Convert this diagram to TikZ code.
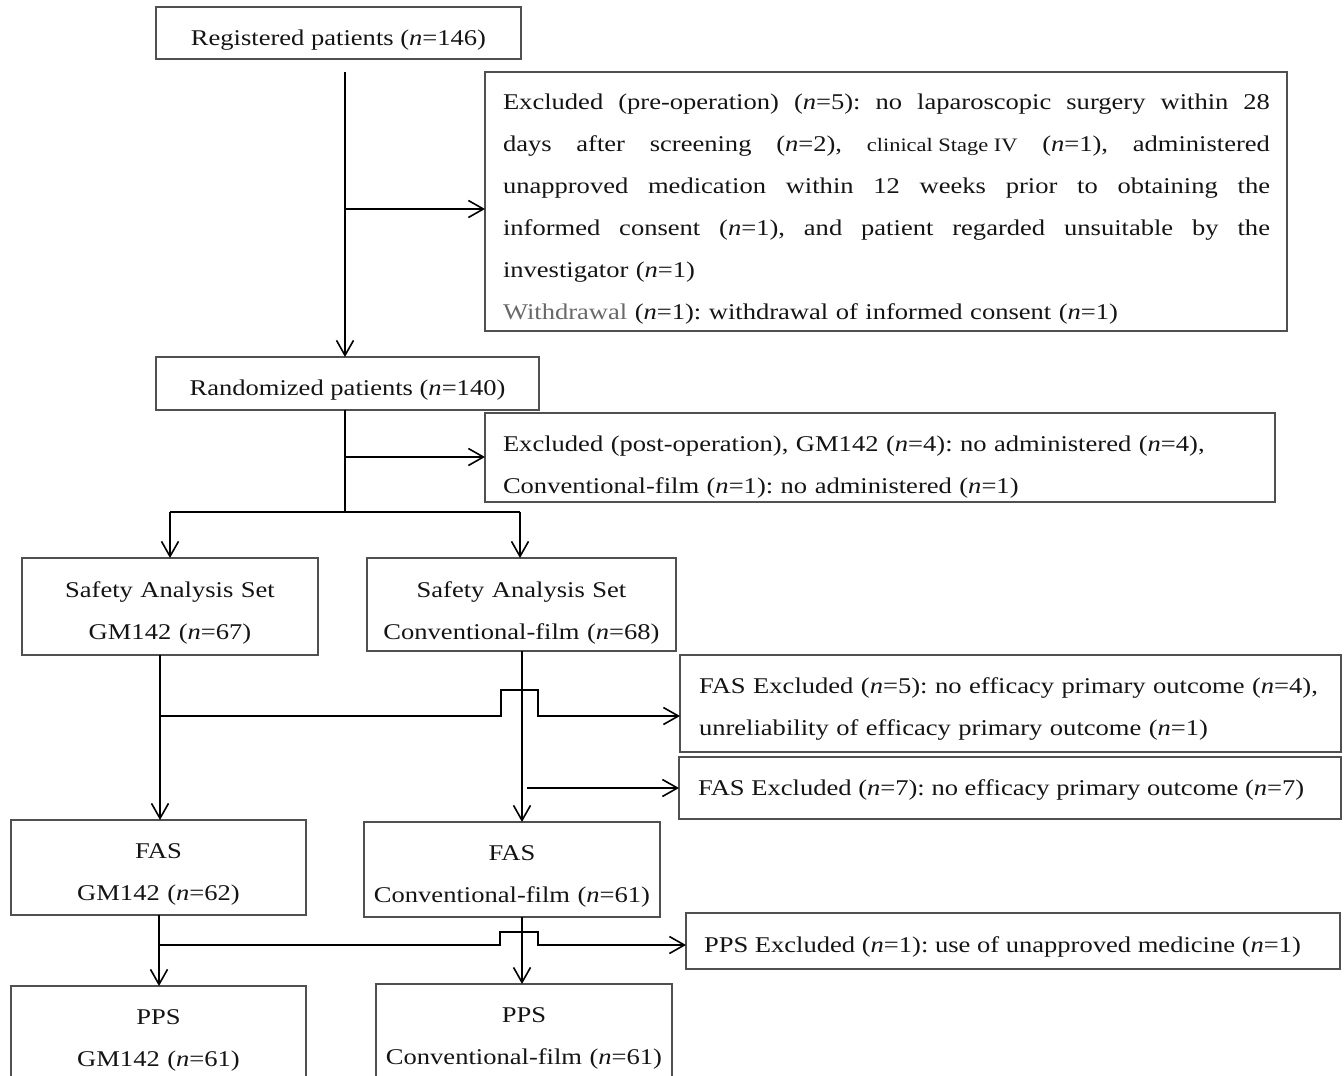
\documentclass[tikz,border=0pt]{standalone}
\usepackage{fontspec}
\setmainfont{Liberation Serif}[FakeStretch=1.18]
\usetikzlibrary{arrows.meta}
\newcommand{\nv}[1]{(\textit{n}=#1)}
\newcommand{\jline}[1]{\makebox[767pt][s]{\spaceskip=\fontdimen2\font plus 1fil\relax #1}}
\definecolor{boxline}{RGB}{80,80,80}
\definecolor{graytxt}{RGB}{105,105,105}
\frenchspacing
\begin{document}
\frenchspacing
\begin{tikzpicture}[x=1pt,y=-1pt,
  boxx/.style={draw=boxline, line width=1.2pt, inner sep=0pt, outer sep=0pt},
  txt/.style={inner sep=0pt, outer sep=0pt, font=\fontsize{22.5}{42}\selectfont\frenchspacing, text=black!92},
  conn/.style={line width=1.6pt, black},
  arr/.style={conn, -{Straight Barb[length=15pt,width=17pt]}}]
\useasboundingbox (0,0) rectangle (1344,1076);
\clip (0,0) rectangle (1344,1076);
% boxes
\node[boxx, minimum width=365pt, minimum height=52pt] (reg) at (338.5,33) {};
\node[boxx, minimum width=802pt, minimum height=259pt] (pre) at (886,201.5) {};
\node[boxx, minimum width=383pt, minimum height=53pt] (rand) at (347.5,383.5) {};
\node[boxx, minimum width=790pt, minimum height=89pt] (post) at (880,457.5) {};
\node[boxx, minimum width=296pt, minimum height=97pt] (sas1) at (170,606.5) {};
\node[boxx, minimum width=309pt, minimum height=93pt] (sas2) at (521.5,604.5) {};
\node[boxx, minimum width=661pt, minimum height=97pt] (fx5) at (1010.5,703.5) {};
\node[boxx, minimum width=662pt, minimum height=62pt] (fx7) at (1010,788) {};
\node[boxx, minimum width=295pt, minimum height=95pt] (fas1) at (158.5,867.5) {};
\node[boxx, minimum width=296pt, minimum height=95pt] (fas2) at (512,869.5) {};
\node[boxx, minimum width=654pt, minimum height=56pt] (ppsx) at (1013,941) {};
\node[boxx, minimum width=295pt, minimum height=114pt] (pps1) at (158.5,1043) {};
\node[boxx, minimum width=296pt, minimum height=116pt] (pps2) at (524,1042) {};
% texts
\node[txt, anchor=base] (regt) at (338.5,45) {Registered patients \nv{146}};
\node[txt, anchor=base west, text width=767pt, align=left] (pret) at (503,109)
 {\jline{Excluded (pre-operation) \nv{5}: no laparoscopic surgery within 28}\\
  \jline{days after screening \nv{2}, {\fontsize{19}{42}\selectfont\spaceskip=0pt clinical Stage IV} \nv{1}, administered}\\
  \jline{unapproved medication within 12 weeks prior to obtaining the}\\
  \jline{informed consent \nv{1}, and patient regarded unsuitable by the}\\
  investigator \nv{1}\\
  \textcolor{graytxt}{Withdrawal} \nv{1}: withdrawal of informed consent \nv{1}};
\node[txt, anchor=base] (randt) at (347.5,395) {Randomized patients \nv{140}};
\node[txt, anchor=base west, text width=780pt, align=left] (postt) at (503,451)
 {Excluded (post-operation), GM142 \nv{4}: no administered \nv{4},\\
  Conventional-film \nv{1}: no administered \nv{1}};
\node[txt, anchor=base, text width=296pt, align=center] (sas1t) at (170,597) {Safety Analysis Set\\GM142 \nv{67}};
\node[txt, anchor=base, text width=309pt, align=center] (sas2t) at (521.5,597) {Safety Analysis Set\\Conventional-film \nv{68}};
\node[txt, anchor=base west, text width=640pt, align=left] (fx5t) at (699,693)
 {FAS Excluded \nv{5}: no efficacy primary outcome \nv{4},\\
  unreliability of efficacy primary outcome \nv{1}};
\node[txt, anchor=base west] (fx7t) at (698,795) {FAS Excluded \nv{7}: no efficacy primary outcome \nv{7}};
\node[txt, anchor=base, text width=295pt, align=center] (fas1t) at (158.5,858) {FAS\\GM142 \nv{62}};
\node[txt, anchor=base, text width=296pt, align=center] (fas2t) at (512,860) {FAS\\Conventional-film \nv{61}};
\node[txt, anchor=base west] (ppsxt) at (704,952) {PPS Excluded \nv{1}: use of unapproved medicine \nv{1}};
\node[txt, anchor=base, text width=295pt, align=center] (pps1t) at (158.5,1024) {PPS\\GM142 \nv{61}};
\node[txt, anchor=base, text width=296pt, align=center] (pps2t) at (524,1022) {PPS\\Conventional-film \nv{61}};
% connectors
\coordinate (a1) at (345,72);
\draw[arr] (a1) -- (a1 |- rand.north);
\coordinate (b1) at (345,209);
\draw[arr] (b1) -- (b1 -| pre.west);
\coordinate (a2) at (345,512);
\draw[conn] (rand.south -| a2) -- (a2);
\coordinate (b2) at (345,457);
\draw[arr] (b2) -- (b2 -| post.west);
\coordinate (l2) at (170,512);
\coordinate (r2) at (520,512);
\draw[conn] (l2) -- (r2);
\draw[arr] (l2) -- (l2 |- sas1.north);
\draw[arr] (r2) -- (r2 |- sas2.north);
\coordinate (l3) at (160,716);
\draw[arr] (l3 |- sas1.south) -- (l3 |- fas1.north);
\draw[arr] (l3) -- ++(341,0) -- ++(0,-26) -- ++(37,0) -- ++(0,26) -- (l3 -| fx5.west);
\coordinate (r3) at (522,788);
\draw[arr] (r3 |- sas2.south) -- (r3 |- fas2.north);
\draw[arr] ([xshift=5pt]r3) -- (r3 -| fx7.west);
\coordinate (l4) at (159,945);
\draw[arr] (l4 |- fas1.south) -- (l4 |- pps1.north);
\draw[arr] (l4) -- ++(341,0) -- ++(0,-13) -- ++(38,0) -- ++(0,13) -- (l4 -| ppsx.west);
\coordinate (r4) at (522,945);
\draw[arr] (r4 |- fas2.south) -- (r4 |- pps2.north);
\end{tikzpicture}
\end{document}
